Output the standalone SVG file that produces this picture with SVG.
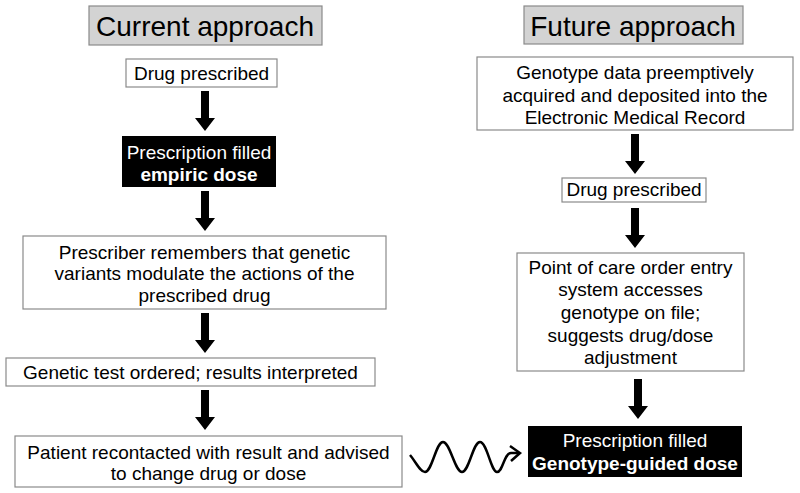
<svg xmlns="http://www.w3.org/2000/svg" width="800" height="493" viewBox="0 0 800 493">
<defs>
<style>
text{font-family:"Liberation Sans",Arial,sans-serif;font-size:19px;fill:#000;text-anchor:middle}
.title{font-size:28px}
.box{fill:#fff;stroke:#8a8a8a;stroke-width:1.2}
.tbox{fill:#d3d3d3;stroke:#8a8a8a;stroke-width:1.2}
.dark{fill:#000;stroke:none}
.w{fill:#fff}
.b{font-weight:bold}
.arrow{fill:#000}
</style>
<path id="arr" d="M-4,0 H4 V27 H10 L0,40 L-10,27 H-4 Z"/>
</defs>
<rect width="800" height="493" fill="#fff"/>
<g id="title-current"><rect class="tbox" x="89" y="6" width="233" height="39"/><text class="title" x="205" y="36">Current approach</text></g>
<g id="title-future"><rect class="tbox" x="524" y="6" width="219" height="38"/><text class="title" x="633" y="36">Future approach</text></g>
<g id="c1"><rect class="box" x="126" y="59" width="151" height="28"/><text x="201.5" y="80">Drug prescribed</text></g>
<g id="c2"><rect class="dark" x="122" y="136" width="154" height="51"/><text class="w" x="199" y="159">Prescription filled</text><text class="w b" x="199" y="181">empiric dose</text></g>
<g id="c3"><rect class="box" x="23" y="236" width="363" height="73"/><text x="204.5" y="259">Prescriber remembers that genetic</text><text x="204.5" y="280">variants modulate the actions of the</text><text x="204.5" y="302">prescribed drug</text></g>
<g id="c4"><rect class="box" x="6" y="358" width="369" height="28"/><text x="190.5" y="379">Genetic test ordered; results interpreted</text></g>
<g id="c5"><rect class="box" x="15" y="436" width="387" height="51"/><text x="208.5" y="459">Patient recontacted with result and advised</text><text x="208.5" y="480">to change drug or dose</text></g>
<g id="f1"><rect class="box" x="477" y="57" width="316" height="73"/><text x="635" y="79">Genotype data preemptively</text><text x="635" y="102">acquired and deposited into the</text><text x="635" y="124">Electronic Medical Record</text></g>
<g id="f2"><rect class="box" x="562" y="178" width="144" height="24"/><text x="634" y="196">Drug prescribed</text></g>
<g id="f3"><rect class="box" x="517" y="253" width="227" height="118"/><text x="630.5" y="274">Point of care order entry</text><text x="630.5" y="296">system accesses</text><text x="630.5" y="319">genotype on file;</text><text x="630.5" y="342">suggests drug/dose</text><text x="630.5" y="364">adjustment</text></g>
<g id="f4"><rect class="dark" x="528" y="426" width="214" height="51"/><text class="w" x="635" y="447">Prescription filled</text><text class="w b" x="635" y="470">Genotype-guided dose</text></g>
<g id="connectors">
<use href="#arr" class="arrow" x="205" y="91"/>
<use href="#arr" class="arrow" x="205" y="191"/>
<use href="#arr" class="arrow" x="205" y="313"/>
<use href="#arr" class="arrow" x="205" y="390"/>
<use href="#arr" class="arrow" x="635" y="134"/>
<use href="#arr" class="arrow" x="635" y="208"/>
<use href="#arr" class="arrow" x="638" y="379"/>
<path d="M410,455 C416,462 420,472 425,472 C432,472 436,442 443,442 C450,442 455,472 462,472 C469,472 473,442 480,442 C487,442 491,472 497,472 C503,472 504,453 511,453 L519,453" fill="none" stroke="#000" stroke-width="2.5"/>
<path d="M510,446 L520,453 L511,461" fill="none" stroke="#000" stroke-width="2.5"/>
</g>
</svg>
